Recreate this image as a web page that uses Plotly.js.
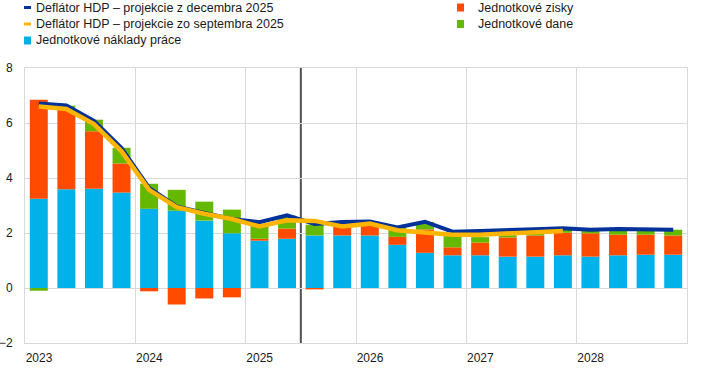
<!DOCTYPE html>
<html>
<head>
<meta charset="utf-8">
<script src="https://cdn.plot.ly/plotly-3.0.1.min.js"></script>
<style>html,body{margin:0;padding:0;background:#fff;}#chart{width:709px;height:370px;}</style>
</head>
<body>
<div id="chart"></div>
<script>
// Quarters 2023 Q1 – 2028 Q4
const quarters = ["2023Q1","2023Q2","2023Q3","2023Q4","2024Q1","2024Q2","2024Q3","2024Q4",
  "2025Q1","2025Q2","2025Q3","2025Q4","2026Q1","2026Q2","2026Q3","2026Q4",
  "2027Q1","2027Q2","2027Q3","2027Q4","2028Q1","2028Q2","2028Q3","2028Q4"];
const yearTicks = [2023, 2024, 2025, 2026, 2027, 2028];

const unitLabourCosts = [3.25,3.59,3.61,3.47, 2.88,2.81,2.45,1.99, 1.72,1.79,1.91,1.91,
  1.91,1.57,1.28,1.19, 1.19,1.14,1.14,1.19, 1.14,1.19,1.21,1.21];
const unitProfits = [3.60,2.96,2.09,1.06, -0.12,-0.60,-0.38,-0.34, 0.07,0.37,-0.05,0.37,
  0.37,0.29,0.85,0.29, 0.46,0.70,0.77,0.82, 0.85,0.75,0.73,0.70];
const unitTaxes = [-0.10,0.08,0.42,0.57, 0.91,0.76,0.69,0.86, 0.56,0.47,0.39,0.10,
  0.10,0.32,0.27,0.42, 0.20,0.08,0.08,0.10, 0.09,0.16,0.14,0.21];
const deflatorDec2025 = [6.71,6.64,6.08,5.09, 3.64,2.97,2.73,2.51, 2.39,2.64,2.33,2.40,
  2.42,2.20,2.41,2.05, 2.07,2.09,2.14,2.17, 2.12,2.15,2.13,2.12];
const deflatorSep2025 = [6.60,6.51,5.96,4.97, 3.57,2.94,2.70,2.51, 2.24,2.46,2.44,2.24,
  2.34,2.10,2.02,1.94, 1.94,1.97,2.01,2.07];
const projectionStart = "2025Q3"; // vertical marker before this quarter

const names = {
  dec: "Deflátor HDP – projekcie z decembra 2025",
  sep: "Deflátor HDP – projekcie zo septembra 2025",
  ulc: "Jednotkové náklady práce",
  prof: "Jednotkové zisky",
  tax: "Jednotkové dane"
};
const colors = {dec:"#003299", sep:"#FFB400", ulc:"#00B1EA", prof:"#FF4B00", tax:"#65B800"};

function qx(q){ const y = +q.slice(0,4), n = +q.slice(5); return y + (n - 0.5)/4; }
const xq = quarters.map(qx);
const markerX = +projectionStart.slice(0,4) + (+projectionStart.slice(5) - 1)/4;

const barW = 0.163;
const traces = [
  {type:"bar", x:xq, y:unitLabourCosts, name:names.ulc, marker:{color:colors.ulc}, width:barW, hoverinfo:"y"},
  {type:"bar", x:xq, y:unitProfits, name:names.prof, marker:{color:colors.prof}, width:barW, hoverinfo:"y"},
  {type:"bar", x:xq, y:unitTaxes, name:names.tax, marker:{color:colors.tax}, width:barW, hoverinfo:"y"},
  {type:"scatter", mode:"lines", x:xq, y:deflatorDec2025, name:names.dec, line:{color:colors.dec, width:4}},
  {type:"scatter", mode:"lines", x:xq.slice(0, deflatorSep2025.length), y:deflatorSep2025, name:names.sep, line:{color:colors.sep, width:4.5}}
];

// custom legend (pixel layout -> paper coords)
const L = 25, R = 687, T = 68, B = 343;
const px = v => (v - L)/(R - L);
const py = v => (B - v)/(B - T);
const legendItems = [
  {key:"dec", col:0, row:0, kind:"line"},
  {key:"sep", col:0, row:1, kind:"line"},
  {key:"ulc", col:0, row:2, kind:"box"},
  {key:"prof", col:1, row:0, kind:"box"},
  {key:"tax", col:1, row:1, kind:"box"}
];
const colIcon = [24, 457], colText = [34, 476], rowY = [7.5, 24, 40.5];
const shapes = [{
  type:"line", xref:"x", yref:"paper", x0:markerX, x1:markerX, y0:0, y1:1,
  line:{color:"#505050", width:2}, layer:"between"
}];
const annotations = [];
legendItems.forEach(it => {
  const cy = rowY[it.row];
  const h = it.kind === "line" ? 3 : 8;
  const w = 7;
  shapes.push({type:"rect", xref:"paper", yref:"paper",
    x0:px(colIcon[it.col]), x1:px(colIcon[it.col]+w), y0:py(cy + h/2), y1:py(cy - h/2),
    fillcolor:colors[it.key], line:{width:0}});
  annotations.push({xref:"paper", yref:"paper", x:px(colText[it.col]), y:py(cy),
    xanchor:"left", yanchor:"middle", showarrow:false, text:names[it.key],
    font:{size:12.5, color:"#1a1a1a"}});
});

const grid = "#d9d9d9";
const layout = {
  width:709, height:370,
  margin:{l:L, r:709-R, t:T, b:370-B},
  paper_bgcolor:"#fff", plot_bgcolor:"#fff",
  font:{family:"Liberation Sans, Arial, sans-serif", size:12, color:"#1a1a1a"},
  barmode:"relative",
  showlegend:false,
  xaxis:{range:[2023, 2029], tickvals:yearTicks, ticktext:yearTicks.map(String),
    showgrid:true, gridcolor:grid, gridwidth:1, zeroline:false,
    showline:true, linecolor:grid, linewidth:1, mirror:true,
    ticks:"", ticklabelshift:14, ticklabelstandoff:4, tickfont:{size:12}},
  yaxis:{range:[-2, 8], dtick:2, tick0:0,
    showgrid:true, gridcolor:grid, gridwidth:1, zeroline:true, zerolinecolor:grid, zerolinewidth:1,
    showline:true, linecolor:grid, linewidth:1, mirror:true,
    ticks:"", ticklabelstandoff:9, tickfont:{size:12}},
  shapes:shapes,
  annotations:annotations
};
Plotly.newPlot("chart", traces, layout, {staticPlot:true, displayModeBar:false});
</script>
</body>
</html>
